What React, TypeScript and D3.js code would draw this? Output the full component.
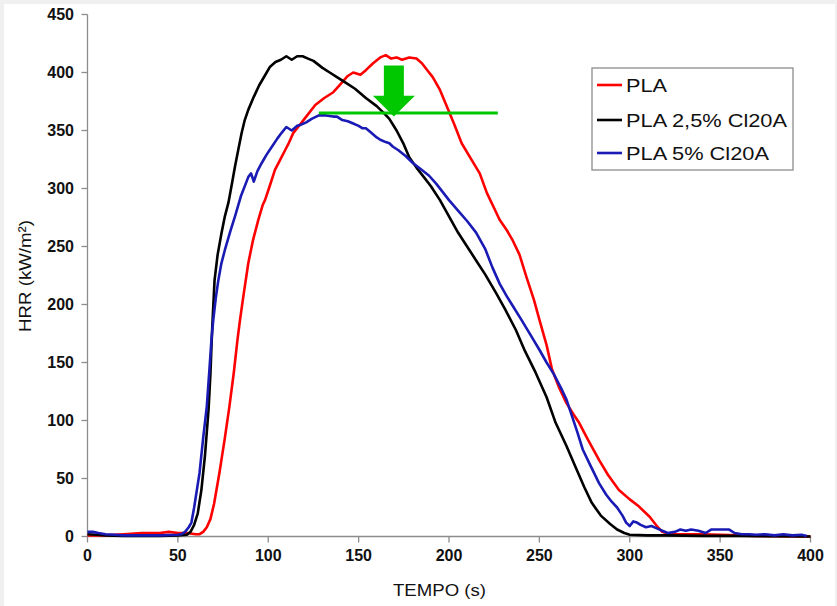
import React from "react";
import * as d3 from "d3";

// ---- data (time s, HRR kW/m²) ----
const plaT = [0, 10, 20, 30, 40, 45, 50, 55, 60, 62, 64, 66, 68, 70, 73, 76, 78.5, 81, 83, 84.4, 86.5, 89, 91.5, 94.5, 97, 98.2, 101, 103.7, 106, 109.3, 111, 113.9, 116, 121, 126, 131, 136, 140, 144, 147, 151, 154, 158, 162, 165, 168, 171, 174, 178, 182, 185, 188, 191, 195, 199, 203, 207, 212, 217, 221, 225, 228, 232, 235, 239, 243, 247, 250, 254, 257, 261, 265, 269, 272, 277, 283, 288, 294, 300, 305, 311, 315, 318, 322, 330, 340, 350, 360, 370, 400];
const plaV = [1, 1, 2, 3, 3, 4, 3, 3, 2, 2, 4, 8, 15, 28, 55, 85, 112, 142, 170, 187, 210, 236, 255, 273, 286, 290, 303, 316, 323, 333, 338, 348, 352, 362, 372, 378, 383, 390, 397, 400, 398, 402, 408, 413, 415, 412, 413, 411, 413, 412, 408, 402, 396, 385, 370, 355, 339, 326, 313, 296, 283, 273, 264, 256, 243, 223, 204, 187, 165, 144, 128, 115, 105, 98, 83, 66, 53, 40, 32, 26, 17, 9, 4, 2, 2, 2, 1.5, 1, 0.5, 0];

const pla25T = [0, 5, 10, 20, 30, 40, 50, 55, 57, 59, 61, 63, 65, 67, 68, 69, 70.3, 72, 74.2, 76, 78, 80, 81.6, 83.5, 85.3, 87, 89, 92, 95, 98, 101, 104, 107, 110, 113, 116, 119, 122, 125, 130, 134, 138, 143, 148, 154, 160, 164, 167, 171, 175, 178, 182, 186, 190, 195, 200, 205, 210, 215, 220, 226, 231, 237, 242, 248, 254, 259, 265, 270, 275, 279, 284, 289, 293, 297, 300, 310, 320, 340, 360, 400];
const pla25V = [2, 1.5, 1, 0.5, 0.5, 0.5, 1, 1.5, 4, 10, 20, 40, 70, 110, 140, 180, 221, 243, 262, 276, 288, 305, 319, 334, 348, 359, 368, 379, 389, 397, 405, 409, 411, 414, 411, 414, 414, 412, 410, 404, 400, 396, 391, 386, 378, 371, 365, 360, 350, 338, 327, 318, 310, 302, 290, 276, 262, 250, 238, 226, 210, 196, 178, 160, 141, 120, 98, 78, 60, 42, 29, 18, 11, 6, 3, 1.5, 1, 1, 0.5, 0.5, 0];

const pla5T = [0, 3, 6, 10, 15, 20, 30, 40, 50, 52, 54, 56, 57.5, 59, 60.5, 62, 64, 66, 67.5, 68.6, 69.6, 71, 72.4, 74, 76, 79, 81.6, 85, 89, 90.5, 92, 94, 96.4, 99, 102, 105, 107.4, 110, 113, 116, 118, 121, 124, 128, 132, 136, 138, 141, 144, 147, 150, 152, 154, 157, 160, 162, 165, 167, 169, 172, 176, 180, 185, 189, 193, 197, 200, 205, 210, 215, 220, 224, 228, 232, 236, 240, 245, 250, 254, 258, 262, 265, 268, 271, 274, 278, 283, 287, 290, 293, 296, 298, 300, 302, 304, 306, 309, 312, 315, 318, 321, 325, 328, 331, 334, 338, 342, 345, 350, 355, 358, 362, 366, 370, 375, 380, 385, 390, 395, 398];
const pla5V = [4, 4, 3, 2, 1.5, 1, 1, 1, 1.5, 2, 4, 8, 12, 25, 40, 55, 85, 112, 145, 170, 187, 206, 221, 235, 247, 263, 276, 294, 310, 313, 306, 315, 322, 329, 336, 343, 348, 353, 350, 354, 355, 357, 360, 363, 363, 362, 362, 359, 358, 356, 354, 352, 352, 348, 344, 342, 340, 339, 336, 333, 328, 322, 316, 311, 304, 296, 290, 281, 272, 262, 248, 232, 218, 207, 197, 187, 174, 161, 150, 140, 128, 118, 104, 90, 75, 62, 46, 36, 30, 25, 18, 12, 9, 13, 12, 10, 8, 9, 7, 5, 3, 4, 6, 5, 6, 5, 3, 6, 6, 6, 3, 2, 2, 1.5, 2, 1, 2, 1, 1.5, 0.5];

const seriesNames = ["PLA", "PLA 2,5% Cl20A", "PLA 5% Cl20A"];
const seriesColors = ["#ff0000", "#000000", "#1a1ab4"];
const seriesT = [plaT, pla25T, pla5T];
const seriesV = [plaV, pla25V, pla5V];

const xTicks = [0, 50, 100, 150, 200, 250, 300, 350, 400];
const yTicks = [0, 50, 100, 150, 200, 250, 300, 350, 400, 450];

// green annotation (data units)
const markLine = { t0: 128, t1: 227, v: 365 };
const arrow = { t: 169.5, top: 406, headBase: 380, tip: 362 };

export default function App() {
  const x = d3.scaleLinear().domain([0, 400]).range([87.5, 810.5]);
  const y = d3.scaleLinear().domain([0, 450]).range([536.5, 14.5]);
  const line = d3
    .line<[number, number]>()
    .x((d) => x(d[0]))
    .y((d) => y(d[1]));

  const font = "'Liberation Sans', Arial, sans-serif";
  const axisColor = "#8c8c8c";

  const ax = x(arrow.t);
  const arrowPts = [
    [ax - 10, y(arrow.top)],
    [ax + 10, y(arrow.top)],
    [ax + 10, y(arrow.headBase)],
    [ax + 21, y(arrow.headBase)],
    [ax, y(arrow.tip)],
    [ax - 21, y(arrow.headBase)],
    [ax - 10, y(arrow.headBase)],
  ]
    .map((p) => p.join(","))
    .join(" ");

  const legendY = [85, 120, 153];
  const legendLen = [41, 161, 143];

  return (
    <svg
      width={837}
      height={606}
      style={{ position: "absolute", left: 0, top: 0, display: "block" }}
      fontFamily={font}
    >
      <rect x={0} y={0} width={837} height={606} fill="#f0f0f0" />
      <rect x={4} y={4} width={831} height={602} fill="#ffffff" />

      {/* axes */}
      <line x1={x(0)} x2={x(0)} y1={y(450)} y2={y(0)} stroke={axisColor} strokeWidth={1.3} />
      <line x1={x(0)} x2={x(400)} y1={y(0)} y2={y(0)} stroke={axisColor} strokeWidth={1.3} />
      {yTicks.map((v) => (
        <g key={"y" + v}>
          <line x1={x(0) - 6} x2={x(0)} y1={y(v)} y2={y(v)} stroke={axisColor} strokeWidth={1.3} />
          <text x={74} y={y(v) + 5.7} textAnchor="end" fontSize={16} fontWeight="bold" fill="#111">
            {v}
          </text>
        </g>
      ))}
      {xTicks.map((t) => (
        <g key={"x" + t}>
          <line x1={x(t)} x2={x(t)} y1={y(0)} y2={y(0) + 6} stroke={axisColor} strokeWidth={1.3} />
          <text x={x(t)} y={561} textAnchor="middle" fontSize={16} fontWeight="bold" fill="#111">
            {t}
          </text>
        </g>
      ))}

      {/* axis titles */}
      <text x={439.5} y={596} textAnchor="middle" fontSize={17} fill="#111" textLength={93} lengthAdjust="spacingAndGlyphs">
        TEMPO (s)
      </text>
      <text
        transform="translate(31,276) rotate(-90)"
        textAnchor="middle"
        fontSize={17}
        fill="#111"
        textLength={112}
        lengthAdjust="spacingAndGlyphs"
      >
        HRR (kW/m²)
      </text>

      {/* series */}
      {seriesT.map((ts, i) => (
        <path
          key={seriesNames[i]}
          d={line(ts.map((t, j) => [t, seriesV[i][j]] as [number, number])) || ""}
          fill="none"
          stroke={seriesColors[i]}
          strokeWidth={2.6}
          strokeLinejoin="round"
        />
      ))}

      {/* green annotation */}
      <line
        x1={x(markLine.t0)}
        x2={x(markLine.t1)}
        y1={y(markLine.v)}
        y2={y(markLine.v)}
        stroke="#00c800"
        strokeWidth={3}
      />
      <polygon points={arrowPts} fill="#00c800" />

      {/* legend */}
      <rect x={592} y={68} width={201} height={102} fill="#fff" stroke={axisColor} strokeWidth={1.3} />
      {seriesNames.map((n, i) => (
        <g key={"lg" + n}>
          <line x1={597} x2={622} y1={legendY[i]} y2={legendY[i]} stroke={seriesColors[i]} strokeWidth={2.6} />
          <text
            x={626}
            y={legendY[i] + 7}
            fontSize={19}
            fill="#111"
            textLength={legendLen[i]}
            lengthAdjust="spacingAndGlyphs"
          >
            {n}
          </text>
        </g>
      ))}
    </svg>
  );
}
